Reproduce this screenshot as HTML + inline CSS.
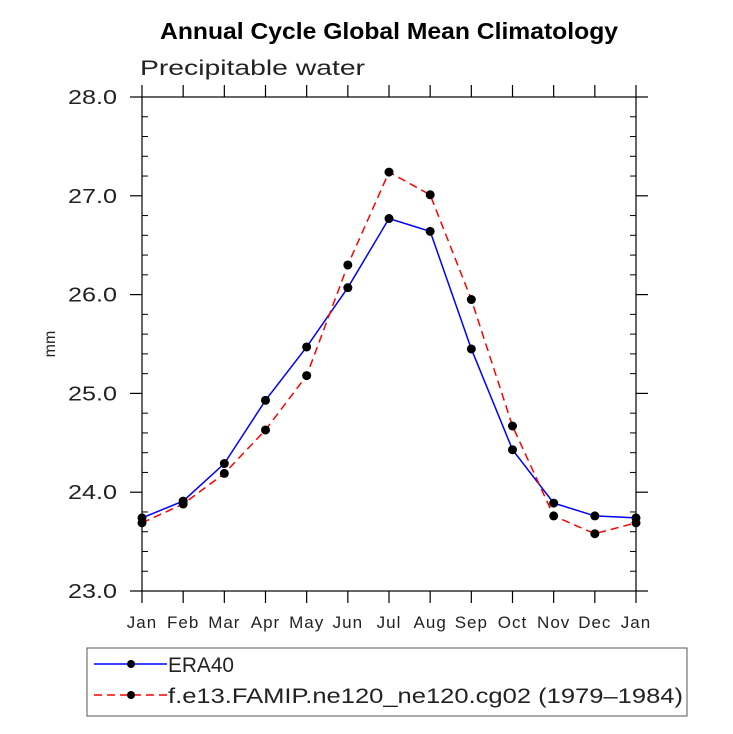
<!DOCTYPE html>
<html><head><meta charset="utf-8"><style>
body{margin:0;background:#fff;}
svg{display:block;font-family:"Liberation Sans",sans-serif;}
</style></head><body>
<svg id="c" width="733" height="734" viewBox="0 0 733 734" xmlns="http://www.w3.org/2000/svg">
<text x="160" y="39" textLength="458" lengthAdjust="spacingAndGlyphs" font-size="23" font-weight="bold">Annual Cycle Global Mean Climatology</text>
<text x="140" y="75" textLength="225" lengthAdjust="spacingAndGlyphs" font-size="21" fill="#222">Precipitable water</text>
<text x="55" y="344" font-size="16" text-anchor="middle" transform="rotate(-90 55 344)" fill="#222">mm</text>
<rect x="142" y="97" width="494" height="494" fill="none" stroke="#000" stroke-width="1.2"/>
<g id="axes"></g>
<g id="series"></g>
<g>
<rect x="87" y="648" width="600" height="68" fill="none" stroke="#555" stroke-width="1"/>
<g>
<line x1="94" y1="664" x2="167" y2="664" stroke="#00f" stroke-width="1.5"/>
<circle cx="131" cy="664" r="4" fill="#000"/>
<text x="168" y="672" textLength="66" lengthAdjust="spacingAndGlyphs" font-size="21" fill="#222">ERA40</text>
</g>
<g>
<line x1="94" y1="695" x2="167" y2="695" stroke="#f00" stroke-width="1.5" stroke-dasharray="8,5"/>
<circle cx="131" cy="695" r="4" fill="#000"/>
<text x="168" y="703" textLength="515" lengthAdjust="spacingAndGlyphs" font-size="21" fill="#222">f.e13.FAMIP.ne120_ne120.cg02 (1979–1984)</text>
</g>
</g>
</svg>
<script>
const months = ["Jan","Feb","Mar","Apr","May","Jun","Jul","Aug","Sep","Oct","Nov","Dec","Jan"];
const era40 = [23.74,23.91,24.29,24.93,25.47,26.07,26.77,26.64,25.45,24.43,23.89,23.76,23.74];
const model = [23.69,23.88,24.19,24.63,25.18,26.30,27.24,27.01,25.95,24.67,23.76,23.58,23.69];
const yTicks = [23,24,25,26,27,28];
const yTickLabels = ["23.0","24.0","25.0","26.0","27.0","28.0"];
const NS="http://www.w3.org/2000/svg";
const X0=142,X1=636,Y0=591,Y1=97,YMIN=23,YMAX=28;
function xs(i){return X0+(X1-X0)*i/(months.length-1);}
function ys(v){return Y0-(v-YMIN)/(YMAX-YMIN)*(Y0-Y1);}
function mk(t,a,p){const e=document.createElementNS(NS,t);for(const k in a)e.setAttribute(k,a[k]);p.appendChild(e);return e;}
const ax=document.getElementById('axes');
months.forEach((m,i)=>{
  const x=xs(i);
  const t1=mk('line',{x1:x,y1:Y0,x2:x,y2:Y0+12,stroke:'#000','stroke-width':1.2},ax);
  
  
  mk('line',{x1:x,y1:Y1,x2:x,y2:Y1-12,stroke:'#000','stroke-width':1.2},ax);
  const t=mk('text',{x:x,y:628,'text-anchor':'middle','font-size':17,'letter-spacing':1,fill:'#222'},ax);
  t.textContent=m;
  
  
});
yTicks.forEach((v,i)=>{
  const y=ys(v);
  const l=mk('line',{x1:X0-12,y1:y,x2:X0,y2:y,stroke:'#000','stroke-width':1.2},ax);
  
  
  mk('line',{x1:X1,y1:y,x2:X1+12,y2:y,stroke:'#000','stroke-width':1.2},ax);
  const t=mk('text',{x:68,y:y+7,textLength:49,lengthAdjust:'spacingAndGlyphs','font-size':20,fill:'#222'},ax);
  t.textContent=yTickLabels[i];
  
  
});
for(let v=YMIN;v<YMAX-0.01;v+=0.2){
  if(Math.abs(v-Math.round(v))<0.01)continue;
  const y=ys(v);
  mk('line',{x1:X0,y1:y,x2:X0+6,y2:y,stroke:'#000','stroke-width':1},ax);
  mk('line',{x1:X1-6,y1:y,x2:X1,y2:y,stroke:'#000','stroke-width':1},ax);
}
const sg=document.getElementById('series');
function drawSeries(vals,color,dash,name){
  const g=mk('g',{},sg);
  
  
  const pts=vals.map((v,i)=>xs(i)+','+ys(v)).join(' ');
  const a={points:pts,fill:'none',stroke:color,'stroke-width':1.5};
  if(dash)a['stroke-dasharray']=dash;
  const pl=mk('polyline',a,g);
  
  
  vals.forEach((v,i)=>{
    const c=mk('circle',{cx:xs(i),cy:ys(v),r:4.5,fill:'#000'},g);
    
    
  });
}
drawSeries(era40,'#00f',null,'era40-series');
drawSeries(model,'#f00','8,5','model-series');
</script>
</body></html>
